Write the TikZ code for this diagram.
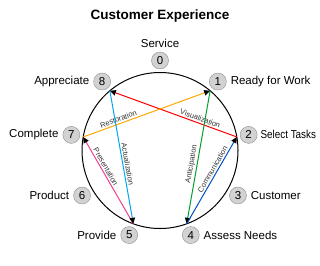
\documentclass[tikz,border=0pt]{standalone}
\usepackage{fontspec}
\setmainfont{Liberation Sans}
\usepackage{xcolor}
\usepackage{graphicx}
\usetikzlibrary{arrows.meta,positioning,calc}
\definecolor{lineRed}{HTML}{FF0000}
\definecolor{lineOrange}{HTML}{FFA800}
\definecolor{lineGreen}{HTML}{00A030}
\definecolor{lineBlue}{HTML}{0050C0}
\definecolor{linePink}{HTML}{F0408C}
\definecolor{lineCyan}{HTML}{00A8F0}

\begin{document}
\begin{tikzpicture}[x=1pt,y=1pt,
  num/.style={circle, draw=gray!90, fill=gray!35, minimum size=17pt, inner sep=0pt,
              font=\fontsize{11.5}{13}\selectfont},
  tag/.style={font=\fontsize{11.5}{13}\selectfont, inner sep=2pt},
  flow/.style={line width=1pt, -{Triangle[black,length=6pt,width=5.5pt]}},
  lbl/.style={font=\fontsize{7.5}{9}\selectfont, inner sep=1.5pt, sloped, above, text=black!80},
]
\useasboundingbox (0,0) rectangle (320,-265);
\node[font=\bfseries\fontsize{13.5}{16}\selectfont] (title) at (160,-16) {Customer Experience};

\coordinate (c) at (160,-150.5);
\draw[line width=1pt] (c) circle (78pt);

% points on the circle
\coordinate (p1) at ($(c)+(50:78)$);
\coordinate (p2) at ($(c)+(10:78)$);
\coordinate (p4) at ($(c)+(-70:78)$);
\coordinate (p5) at ($(c)+(-110:78)$);
\coordinate (p7) at ($(c)+(170:78)$);
\coordinate (p8) at ($(c)+(130:78)$);

% numbered stations
\node[num] (n0) at ($(c)+(90:90)$) {0};
\node[num] (n1) at ($(c)+(50:90)$) {1};
\node[num] (n2) at ($(c)+(10:90)$) {2};
\node[num] (n3) at ($(c)+(-30:90)$) {3};
\node[num] (n4) at ($(c)+(-70:90)$) {4};
\node[num] (n5) at ($(c)+(-110:90)$) {5};
\node[num] (n6) at ($(c)+(-150:90)$) {6};
\node[num] (n7) at ($(c)+(170:90)$) {7};
\node[num] (n8) at ($(c)+(130:90)$) {8};

\node[tag, above=2pt of n0] (t0) {Service};
\node[tag, right=2pt of n1] (t1) {Ready for Work};
\node[tag, right=1pt of n2] (t2) {\scalebox{0.86}[1]{Select Tasks}};
\node[tag, right=2pt of n3] (t3) {Customer};
\node[tag, right=2pt of n4] (t4) {Assess Needs};
\node[tag, left=2pt of n5] (t5) {Provide};
\node[tag, left=2pt of n6] (t6) {Product};
\node[tag, left=2pt of n7] (t7) {Complete};
\node[tag, left=2pt of n8] (t8) {Appreciate};

% the cycle 1-4-2-8-5-7-1
\draw[flow, lineRed]    (p2) -- node[lbl, pos=0.3] {Visualization} (p8);
\draw[flow, lineOrange] (p7) -- node[lbl, pos=0.29] {Restoration} (p1);
\draw[flow, lineGreen]  (p1) -- node[lbl, pos=0.56] {Anticipation} (p4);
\draw[flow, lineBlue]   (p4) -- node[lbl, pos=0.6] {Communication} (p2);
\draw[flow, linePink]   (p5) -- node[lbl, pos=0.63] {Presentation} (p7);
\draw[flow, lineCyan]   (p8) -- node[lbl, pos=0.56] {Actualization} (p5);
\end{tikzpicture}
\end{document}
